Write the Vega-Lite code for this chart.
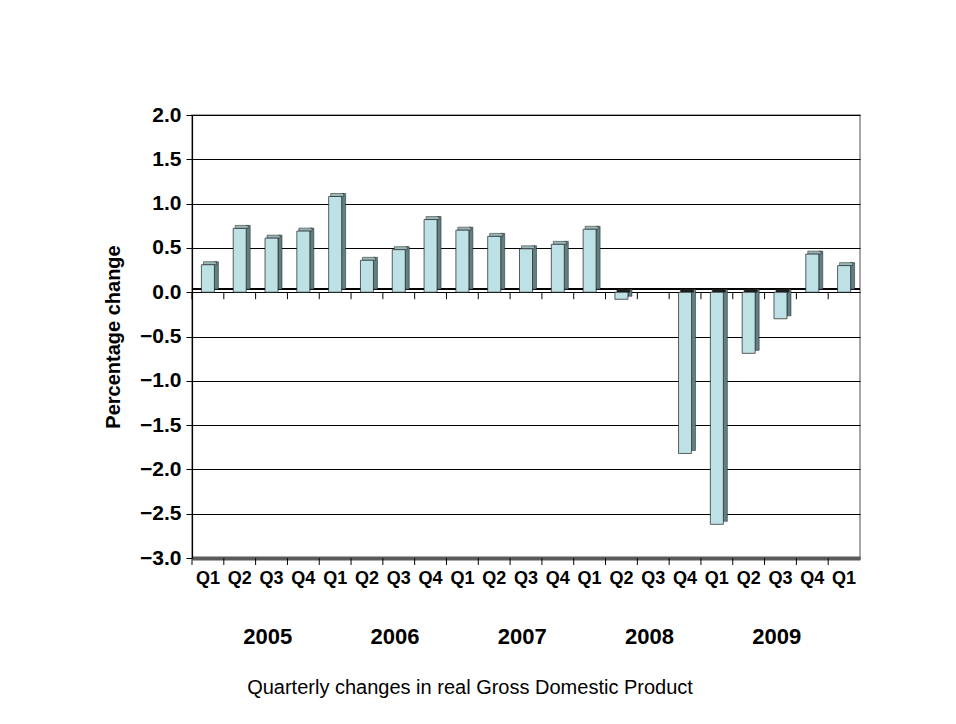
{
  "$schema": "https://vega.github.io/schema/vega-lite/v6.json",
  "width": 668,
  "height": 443,
  "autosize": {"type": "none"},
  "padding": {"left": 192, "top": 115, "right": 96, "bottom": 166},
  "background": "white",
  "config": {"view": {"stroke": "#8a8a8a", "strokeWidth": 1.5}, "font": "Liberation Sans"},
  "title": {
    "text": "Quarterly changes in real Gross Domestic Product",
    "orient": "bottom",
    "anchor": "middle",
    "frame": "group",
    "dx": -56,
    "offset": 30,
    "fontSize": 20,
    "fontWeight": "normal",
    "font": "Liberation Sans",
    "color": "#000000"
  },
  "data": {
    "values": [
      {"q": "2005 Q1", "year": "2005", "v": 0.31},
      {"q": "2005 Q2", "year": "2005", "v": 0.72},
      {"q": "2005 Q3", "year": "2005", "v": 0.61},
      {"q": "2005 Q4", "year": "2005", "v": 0.69},
      {"q": "2006 Q1", "year": "2006", "v": 1.08},
      {"q": "2006 Q2", "year": "2006", "v": 0.36},
      {"q": "2006 Q3", "year": "2006", "v": 0.48},
      {"q": "2006 Q4", "year": "2006", "v": 0.82},
      {"q": "2007 Q1", "year": "2007", "v": 0.70},
      {"q": "2007 Q2", "year": "2007", "v": 0.63},
      {"q": "2007 Q3", "year": "2007", "v": 0.49},
      {"q": "2007 Q4", "year": "2007", "v": 0.54},
      {"q": "2008 Q1", "year": "2008", "v": 0.71},
      {"q": "2008 Q2", "year": "2008", "v": -0.08},
      {"q": "2008 Q3", "year": "2008", "v": null},
      {"q": "2008 Q4", "year": "2008", "v": -1.82},
      {"q": "2009 Q1", "year": "2009", "v": -2.62},
      {"q": "2009 Q2", "year": "2009", "v": -0.69},
      {"q": "2009 Q3", "year": "2009", "v": -0.30},
      {"q": "2009 Q4", "year": "2009", "v": 0.43},
      {"q": "2010 Q1", "year": "2010", "v": 0.30}
    ]
  },
  "layer": [
    {
      "mark": {"type": "rule", "yOffset": -3.5, "stroke": "#000000", "strokeWidth": 1},
      "encoding": {
        "y": {"datum": 0, "type": "quantitative"}
      }
    },
    {
      "mark": {"type": "rule", "xOffset": -15.9, "stroke": "#000000", "strokeWidth": 1},
      "encoding": {
        "x": {"field": "q", "type": "nominal"},
        "y": {"datum": 0, "type": "quantitative"},
        "y2": {"datum": -0.079}
      }
    },
    {
      "mark": {"type": "rule", "xOffset": -15.9, "stroke": "#000000", "strokeWidth": 1},
      "encoding": {
        "x": {"field": "q", "type": "nominal"},
        "y": {"datum": -3, "type": "quantitative"},
        "y2": {"datum": -3.079}
      }
    },
    {
      "mark": {"type": "bar", "width": 4, "xOffset": 8.5, "yOffset": -3, "y2Offset": -3, "fill": "#5f8183", "stroke": "#1e1e1e", "strokeWidth": 0.5},
      "encoding": {
        "x": {"field": "q", "type": "nominal"},
        "y": {"field": "v", "type": "quantitative"}
      }
    },
    {
      "transform": [{"filter": "datum.v > 0"}],
      "mark": {"type": "bar", "width": 13, "xOffset": 2, "yOffset": -3, "y2Offset": 0, "fill": "#98b8b9", "stroke": "#1e1e1e", "strokeWidth": 0.5},
      "encoding": {
        "x": {"field": "q", "type": "nominal"},
        "y": {"field": "v", "type": "quantitative"},
        "y2": {"field": "v"}
      }
    },
    {
      "transform": [{"filter": "datum.v < 0"}],
      "mark": {"type": "bar", "width": 13, "xOffset": 2, "yOffset": -3, "y2Offset": 0, "fill": "#1e1e1e", "stroke": "#1e1e1e", "strokeWidth": 0.5},
      "encoding": {
        "x": {"field": "q", "type": "nominal"},
        "y": {"datum": 0, "type": "quantitative"},
        "y2": {"datum": 0}
      }
    },
    {
      "mark": {"type": "bar", "width": 13, "fill": "#bde1e4", "stroke": "#1e1e1e", "strokeWidth": 0.7},
      "encoding": {
        "x": {
          "field": "q", "type": "nominal",
          "scale": {"domain": ["2005 Q1","2005 Q2","2005 Q3","2005 Q4","2006 Q1","2006 Q2","2006 Q3","2006 Q4","2007 Q1","2007 Q2","2007 Q3","2007 Q4","2008 Q1","2008 Q2","2008 Q3","2008 Q4","2009 Q1","2009 Q2","2009 Q3","2009 Q4","2010 Q1"], "paddingInner": 0, "paddingOuter": 0},
          "axis": {
            "orient": "bottom", "title": null, "grid": false,
            "domain": true, "domainColor": "#5a5a5a", "domainWidth": 4,
            "ticks": true, "tickSize": 7, "tickOpacity": 0,
            "labelExpr": "slice(datum.value, 5)", "labelAngle": 0, "labelAlign": "center", "labelPadding": 13,
            "labelFont": "Liberation Sans", "labelFontSize": 18, "labelFontWeight": "bold", "labelColor": "#000000"
          }
        },
        "y": {
          "field": "v", "type": "quantitative",
          "title": "Percentage change",
          "scale": {"domain": [-3, 2], "nice": false, "zero": false},
          "axis": {
            "orient": "left", "grid": true, "gridColor": "#000000", "gridOpacity": 1,
            "tickCount": 10,
            "domain": true, "domainColor": "#000000", "domainWidth": 1.2,
            "ticks": true, "tickSize": 6, "tickColor": "#000000",
            "labelPadding": 5, "labelFont": "Liberation Sans", "labelFontSize": 21, "labelFontWeight": "bold", "labelColor": "#000000",
            "titleFont": "Liberation Sans", "titleFontSize": 20, "titleFontWeight": "bold",
            "titleColor": "#000000", "titlePadding": 16
          }
        }
      }
    },
    {
      "transform": [{"filter": "indexof(datum.q, 'Q2') > 0"}],
      "mark": {"type": "text", "dx": 28, "dy": 69, "baseline": "top", "align": "center", "font": "Liberation Sans", "fontSize": 22, "fontWeight": "bold", "color": "#000000"},
      "encoding": {
        "x": {"field": "q", "type": "nominal"},
        "y": {"datum": -3, "type": "quantitative"},
        "text": {"field": "year"}
      }
    }
  ]
}
